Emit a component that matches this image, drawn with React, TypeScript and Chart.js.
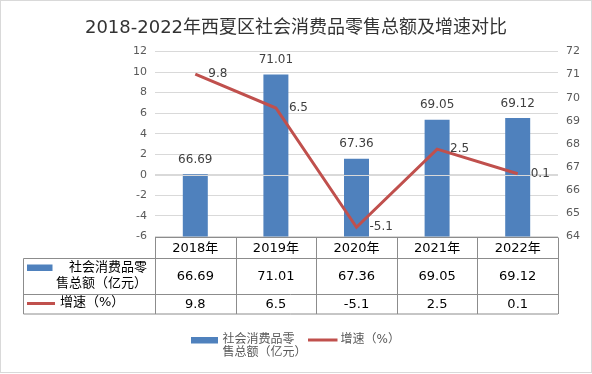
import React, { useEffect, useRef } from "react";
import { Chart, registerables } from "chart.js";

Chart.register(...registerables);

const chartTitle = "2018-2022年西夏区社会消费品零售总额及增速对比";
const categories = ["2018年", "2019年", "2020年", "2021年", "2022年"];
const salesValues = [66.69, 71.01, 67.36, 69.05, 69.12];
const growthValues = [9.8, 6.5, -5.1, 2.5, 0.1];
const salesLegendLines = ["社会消费品零", "售总额（亿元）"];
const growthLegend = "增速（%）";
const leftAxisMin = -6;
const leftAxisMax = 12;
const leftAxisStep = 2;
const rightAxisMin = 64;
const rightAxisMax = 72;
const rightAxisStep = 1;

const FONT = '"DejaVu Sans", "Noto Sans CJK SC", sans-serif';
const BLUE = "#4F81BD";
const RED = "#C0504D";
const GRID = "#D9D9D9";
const TABLE_LINE = "#8C8C8C";

const fmt = (v: number) => String(v);

const customPlugin = {
  id: "customDraw",
  beforeDraw(chart: any) {
    const ctx = chart.ctx;
    ctx.save();
    ctx.fillStyle = "#ffffff";
    ctx.fillRect(0, 0, chart.width, chart.height);
    ctx.restore();
  },
  afterDatasetDraw(chart: any, args: any) {
    if (args.index !== 0) return;
    const ctx = chart.ctx;
    const area = chart.chartArea;
    const y0 = Math.round(chart.scales.y.getPixelForValue(0)) + 0.5;
    ctx.save();
    ctx.strokeStyle = GRID;
    ctx.lineWidth = 1;
    ctx.beginPath();
    ctx.moveTo(area.left, y0);
    ctx.lineTo(area.right, y0);
    ctx.stroke();
    ctx.restore();
  },
  afterDraw(chart: any) {
    const ctx = chart.ctx;
    const area = chart.chartArea;
    const xs = chart.scales.x;
    ctx.save();

    // Title
    ctx.fillStyle = "#333333";
    ctx.font = `18px ${FONT}`;
    ctx.textAlign = "center";
    ctx.textBaseline = "middle";
    ctx.fillText(chartTitle, 296, 28.5);

    // Bar data labels
    const barMeta = chart.getDatasetMeta(0);
    ctx.font = `12px ${FONT}`;
    ctx.fillStyle = "#404040";
    ctx.textAlign = "center";
    ctx.textBaseline = "middle";
    barMeta.data.forEach((el: any, i: number) => {
      ctx.fillText(fmt(salesValues[i]), el.x, el.y - 14.5);
    });

    // Line data labels
    const lineMeta = chart.getDatasetMeta(1);
    ctx.textAlign = "left";
    lineMeta.data.forEach((el: any, i: number) => {
      ctx.fillText(fmt(growthValues[i]), el.x + 13, el.y);
    });

    // Data table
    const n = categories.length;
    const colW = (area.right - area.left) / n;
    const tableLeft = 23.5;
    const top = Math.round(area.bottom) + 0.5;
    const r1 = top + 21;
    const r2 = r1 + 36;
    const r3 = r2 + 19.5;
    ctx.strokeStyle = TABLE_LINE;
    ctx.lineWidth = 1;
    ctx.beginPath();
    ctx.moveTo(area.left, top);
    ctx.lineTo(area.right, top);
    ctx.moveTo(tableLeft, r1);
    ctx.lineTo(area.right, r1);
    ctx.moveTo(tableLeft, r2);
    ctx.lineTo(area.right, r2);
    ctx.moveTo(tableLeft, r3);
    ctx.lineTo(area.right, r3);
    ctx.moveTo(tableLeft, r1);
    ctx.lineTo(tableLeft, r3);
    for (let j = 0; j <= n; j++) {
      const x = Math.round(area.left + j * colW) + 0.5;
      ctx.moveTo(x, top);
      ctx.lineTo(x, r3);
    }
    ctx.stroke();

    ctx.fillStyle = "#000000";
    ctx.font = `13px ${FONT}`;
    ctx.textAlign = "center";
    ctx.textBaseline = "middle";
    categories.forEach((c, j) => {
      const cx = xs.getPixelForValue(j);
      ctx.fillText(c, cx, (top + r1) / 2 + 1);
      ctx.fillText(fmt(salesValues[j]), cx, (r1 + r2) / 2 + 0.5);
      ctx.fillText(fmt(growthValues[j]), cx, (r2 + r3) / 2 + 0.5);
    });

    // Row headers
    ctx.fillStyle = BLUE;
    ctx.fillRect(27, 264.5, 25.5, 6.5);
    ctx.fillStyle = "#000000";
    ctx.textAlign = "right";
    ctx.fillText(salesLegendLines[0], 147, 268);
    ctx.fillText(salesLegendLines[1], 147, 284);
    ctx.strokeStyle = RED;
    ctx.lineWidth = 3;
    ctx.beginPath();
    ctx.moveTo(27, 303.5);
    ctx.lineTo(55, 303.5);
    ctx.stroke();
    ctx.textAlign = "left";
    ctx.fillText(growthLegend, 60, 302.5);

    // Legend
    ctx.fillStyle = BLUE;
    ctx.fillRect(191, 337, 27, 6.5);
    ctx.fillStyle = "#595959";
    ctx.font = `12px ${FONT}`;
    ctx.textAlign = "left";
    ctx.fillText(salesLegendLines[0], 222.5, 340);
    ctx.fillText(salesLegendLines[1], 222.5, 352.5);
    ctx.strokeStyle = RED;
    ctx.lineWidth = 3;
    ctx.beginPath();
    ctx.moveTo(308, 340);
    ctx.lineTo(337.5, 340);
    ctx.stroke();
    ctx.fillText(growthLegend, 340.5, 340);

    // Frame
    ctx.strokeStyle = GRID;
    ctx.lineWidth = 1;
    ctx.strokeRect(0.5, 0.5, 591, 372);
    ctx.restore();
  },
};

export default function App() {
  const canvasRef = useRef<HTMLCanvasElement | null>(null);

  useEffect(() => {
    const canvas = canvasRef.current;
    if (!canvas) return;
    const chart = new Chart(canvas, {
      type: "bar",
      data: {
        labels: categories,
        datasets: [
          {
            type: "bar",
            label: salesLegendLines.join(""),
            data: salesValues,
            backgroundColor: BLUE,
            borderWidth: 0,
            yAxisID: "y2",
            barPercentage: 0.31,
            categoryPercentage: 1,
            order: 2,
          },
          {
            type: "line",
            label: growthLegend,
            data: growthValues,
            borderColor: RED,
            backgroundColor: RED,
            borderWidth: 3,
            pointRadius: 0,
            tension: 0,
            yAxisID: "y",
            order: 1,
          } as any,
        ],
      },
      options: {
        animation: false,
        responsive: false,
        devicePixelRatio: 1,
        layout: { padding: { left: 0, right: 0, top: 51.5, bottom: 137.5 } },
        plugins: {
          legend: { display: false },
          title: { display: false },
          tooltip: { enabled: false },
        },
        scales: {
          x: {
            type: "category",
            display: false,
            offset: true,
          },
          y: {
            type: "linear",
            position: "left",
            min: leftAxisMin,
            max: leftAxisMax,
            ticks: {
              stepSize: leftAxisStep,
              color: "#595959",
              font: { size: 11, family: FONT },
              padding: 8,
            },
            grid: { color: GRID, drawTicks: false },
            border: { display: false },
            afterFit: (s: any) => {
              s.width = 155;
            },
          },
          y2: {
            type: "linear",
            position: "right",
            min: rightAxisMin,
            max: rightAxisMax,
            ticks: {
              stepSize: rightAxisStep,
              color: "#595959",
              font: { size: 11, family: FONT },
              padding: 8,
            },
            grid: { display: false, drawTicks: false },
            border: { display: false },
            afterFit: (s: any) => {
              s.width = 34;
            },
          },
        },
      },
      plugins: [customPlugin],
    });
    return () => chart.destroy();
  }, []);

  return (
    <div style={{ position: "fixed", left: 0, top: 0, width: 592, height: 374, background: "#fff" }}>
      <canvas ref={canvasRef} width={592} height={374} style={{ display: "block", width: 592, height: 374 }} />
    </div>
  );
}
